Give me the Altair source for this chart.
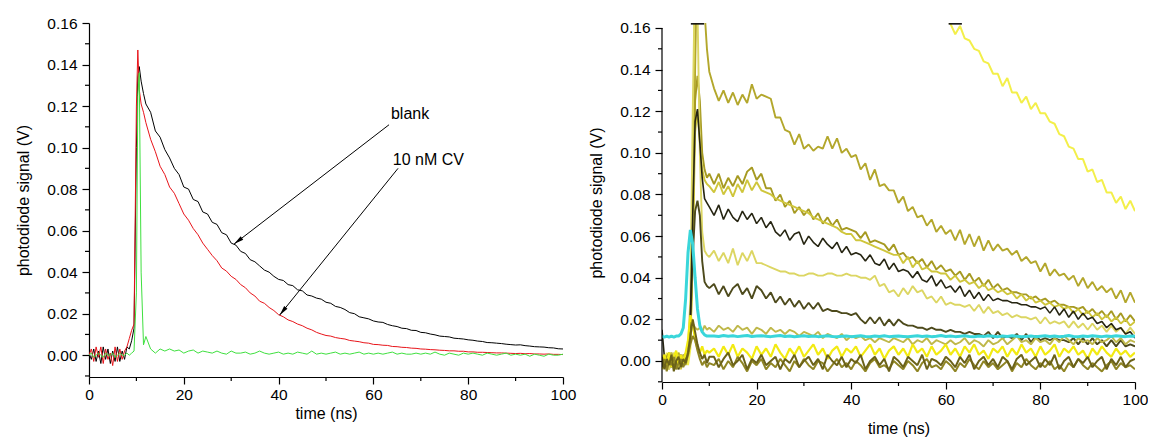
import math
import altair as alt
import pandas as pd

FONT = "Liberation Sans"

# ---------------- data: left panel ----------------
T_L = [0, 0.5, 1, 1.5, 2, 2.5, 3, 3.5, 4, 4.5,
       5, 5.5, 6, 6.5, 7, 7.5, 8, 8.5, 9, 9.5,
       10, 10.3, 10.6, 11, 11.5] + list(range(12, 101))

BLANK = [0.001, -0.002, 0.003, -0.003, 0.002, -0.004, 0.004, -0.002, 0.003, -0.004,
         0.002, -0.003, 0.004, -0.003, 0.002, -0.002, 0.004, 0.003, 0.007, 0.013,
         0.100, 0.134, 0.139, 0.132, 0.126,
         0.121, 0.117, 0.108, 0.105, 0.099, 0.095, 0.090, 0.087, 0.081, 0.080,
         0.075, 0.074, 0.069, 0.068, 0.064, 0.063, 0.059, 0.058, 0.054, 0.053,
         0.050, 0.049, 0.046, 0.045, 0.043, 0.041, 0.040, 0.038, 0.0365, 0.036,
         0.034, 0.0335, 0.0315, 0.031, 0.029, 0.0285, 0.0275, 0.027, 0.0255, 0.025,
         0.0235, 0.023, 0.022, 0.0205, 0.020, 0.0185, 0.018, 0.0175, 0.0165, 0.016,
         0.0158, 0.0148, 0.0142, 0.0138, 0.013, 0.0128, 0.012, 0.0119, 0.011, 0.0108,
         0.0102, 0.0098, 0.0092, 0.009, 0.0088, 0.0082, 0.008, 0.0078, 0.0074, 0.0072,
         0.0068, 0.0066, 0.0061, 0.006, 0.0058, 0.0056, 0.0053, 0.0051, 0.0049, 0.0050,
         0.0046, 0.0044, 0.0041, 0.0040, 0.0039, 0.0036, 0.0035, 0.0031, 0.0030]

CV_10NM = [0.000, 0.003, -0.003, 0.004, -0.001, 0.004, -0.004, 0.003, -0.002, 0.001,
           -0.005, 0.004, -0.003, 0.003, -0.002, 0.002, 0.004, 0.008, 0.012, 0.015,
           0.120, 0.147, 0.128, 0.121, 0.117,
           0.112, 0.104, 0.098, 0.091, 0.087, 0.081, 0.078, 0.073, 0.068, 0.065,
           0.061, 0.058, 0.054, 0.051, 0.048, 0.0455, 0.042, 0.0405, 0.038, 0.0365,
           0.034, 0.0325, 0.030, 0.0285, 0.026, 0.025, 0.023, 0.0215, 0.0195, 0.0185,
           0.017, 0.0162, 0.015, 0.0142, 0.013, 0.0122, 0.011, 0.0102, 0.0095, 0.0092,
           0.0085, 0.0081, 0.0078, 0.0071, 0.0068, 0.0065, 0.006, 0.0058, 0.0052, 0.0051,
           0.0048, 0.0047, 0.0042, 0.0041, 0.0038, 0.0037, 0.0034, 0.0033, 0.0030, 0.0029,
           0.0027, 0.0026, 0.0024, 0.0023, 0.0021, 0.0021, 0.0019, 0.0019, 0.0016, 0.0016,
           0.0014, 0.0014, 0.0013, 0.0012, 0.0011, 0.0011, 0.0010, 0.0009, 0.0008, 0.0009,
           0.0007, 0.0008, 0.0006, 0.0006, 0.0005, 0.0006, 0.0004, 0.0004, 0.0003]

GREEN = [0.000, 0.001, -0.001, 0.000, 0.001, 0.000, -0.001, 0.001, 0.000, 0.000,
         0.001, -0.001, 0.000, 0.001, 0.000, 0.000, 0.001, 0.000, 0.001, 0.002,
         0.030, 0.125, 0.136, 0.040, 0.005,
         0.009, 0.003, 0.001, 0.003, 0.002, 0.003, 0.002, 0.0025, 0.001, 0.002,
         0.0025, 0.001, 0.002, 0.0015, 0.001, 0.002, 0.001, 0.0005, 0.002, 0.001,
         0.001, 0.0015, 0.0005, 0.001, 0.002, 0.001, 0.0005, 0.001, 0.0015, 0.0005,
         0.001, 0.0005, 0.0015, 0.001, 0.0005, 0.002, 0.0005, 0.001, 0.0005, 0.001,
         0.0015, 0.0005, 0.001, 0.0005, 0.001, 0.0015, 0.0005, 0.001, 0.0005, 0.001,
         0.0005, 0.001, 0.0015, 0.0005, 0.001, 0.0005, 0.0005, 0.001, 0.0005, 0.001,
         0.0005, 0.0015, 0.0005, 0.0, 0.001, 0.0005, 0.0, 0.001, 0.0005, 0.001,
         0.0005, 0.0, 0.001, 0.0005, 0.0, 0.0005, 0.001, 0.0, 0.0005, 0.0,
         0.0005, -0.0005, 0.0005, 0.0, -0.0005, 0.0005, 0.0, 0.0, 0.0005]

LEFT_SERIES = [("blank", BLANK, "#000000", 1.0),
               ("10 nM CV", CV_10NM, "#e8141a", 1.0),
               ("green", GREEN, "#3fe03f", 1.0)]

ANN_TEXT = ["blank", "10 nM CV"]
ANN_T = [63.7, 64.1]
ANN_V = [0.1137, 0.0915]
ARROW_T0 = [63.3, 65.2]
ARROW_V0 = [0.1110, 0.0900]
ARROW_T1 = [30.6, 40.2]
ARROW_V1 = [0.0535, 0.0193]

# ---------------- data: right panel ----------------
T_R = [0, 0.5, 1, 1.5, 2, 2.5, 3, 3.5, 4, 4.5,
       5, 5.5, 6, 6.5, 7, 7.5, 8, 8.5, 9, 9.5, 10] + list(range(11, 101))

R_BIG_YELLOW = [0.002, -0.003, 0.004, -0.002, 0.003, -0.004, 0.002, 0.004, -0.003, 0.001,
                0.003, -0.002, 0.006, 0.060, 0.190, 0.300, 0.340, 0.360, 0.370, 0.370, 0.360,
                0.350, 0.345, 0.340, 0.335, 0.330, 0.320, 0.315, 0.310, 0.305, 0.300,
                0.295, 0.290, 0.285, 0.280, 0.275, 0.270, 0.265, 0.260, 0.255, 0.250,
                0.245, 0.240, 0.236, 0.232, 0.228, 0.224, 0.220, 0.216, 0.212, 0.208,
                0.204, 0.200, 0.197, 0.194, 0.191, 0.188, 0.185, 0.182, 0.179, 0.176,
                0.174, 0.172, 0.170, 0.169, 0.168, 0.167, 0.166, 0.1655, 0.165, 0.1645,
                0.162, 0.157, 0.161, 0.155, 0.154, 0.150, 0.149, 0.144, 0.143, 0.138,
                0.138, 0.132, 0.136, 0.129, 0.129, 0.124, 0.127, 0.121, 0.124, 0.119,
                0.119, 0.115, 0.114, 0.109, 0.108, 0.103, 0.102, 0.097, 0.097, 0.091,
                0.092, 0.086, 0.087, 0.081, 0.081, 0.076, 0.079, 0.073, 0.077, 0.072]

R_OLIVE_TOP = [-0.002, 0.003, 0.000, -0.004, 0.002, 0.001, -0.003, 0.004, -0.001, 0.002,
               0.000, 0.004, 0.010, 0.050, 0.140, 0.200, 0.220, 0.210, 0.168, 0.150, 0.139,
               0.131, 0.125, 0.130, 0.124, 0.129, 0.123, 0.128, 0.124, 0.133, 0.126,
               0.128, 0.127, 0.126, 0.117, 0.117, 0.111, 0.110, 0.104, 0.109, 0.102,
               0.104, 0.101, 0.103, 0.102, 0.108, 0.102, 0.107, 0.100, 0.102, 0.098,
               0.099, 0.092, 0.095, 0.087, 0.092, 0.084, 0.085, 0.082, 0.082, 0.076,
               0.079, 0.072, 0.074, 0.069, 0.070, 0.065, 0.068, 0.062, 0.065, 0.061,
               0.063, 0.058, 0.063, 0.056, 0.061, 0.055, 0.060, 0.053, 0.058, 0.053,
               0.056, 0.053, 0.054, 0.051, 0.053, 0.048, 0.050, 0.047, 0.048, 0.043,
               0.047, 0.041, 0.044, 0.041, 0.042, 0.039, 0.041, 0.036, 0.040, 0.035,
               0.038, 0.034, 0.036, 0.033, 0.035, 0.030, 0.034, 0.028, 0.033, 0.028]

R_OLIVE_MID = [0.001, -0.003, 0.002, 0.004, -0.002, 0.000, 0.003, -0.004, 0.002, 0.000,
               -0.002, 0.003, 0.015, 0.060, 0.125, 0.137, 0.125, 0.100, 0.092, 0.088, 0.090,
               0.085, 0.090, 0.083, 0.088, 0.084, 0.089, 0.085, 0.091, 0.093, 0.087,
               0.090, 0.083, 0.083, 0.077, 0.080, 0.074, 0.077, 0.071, 0.074, 0.070,
               0.073, 0.068, 0.071, 0.066, 0.069, 0.065, 0.068, 0.063, 0.064, 0.063,
               0.062, 0.059, 0.062, 0.057, 0.058, 0.057, 0.056, 0.053, 0.056, 0.051,
               0.052, 0.049, 0.050, 0.047, 0.049, 0.045, 0.048, 0.044, 0.046, 0.043,
               0.044, 0.041, 0.043, 0.039, 0.042, 0.038, 0.040, 0.036, 0.039, 0.035,
               0.037, 0.034, 0.035, 0.033, 0.033, 0.032, 0.032, 0.030, 0.031, 0.029,
               0.030, 0.028, 0.029, 0.027, 0.027, 0.026, 0.026, 0.025, 0.026, 0.023,
               0.025, 0.022, 0.024, 0.021, 0.024, 0.020, 0.023, 0.019, 0.022, 0.019]

R_YELLOW_OLIVE = [-0.001, 0.002, -0.003, 0.001, 0.004, -0.002, 0.001, 0.003, -0.004, 0.002,
                  0.001, 0.002, 0.010, 0.050, 0.110, 0.120, 0.105, 0.092, 0.087, 0.085, 0.084,
                  0.081, 0.086, 0.080, 0.084, 0.079, 0.085, 0.081, 0.087, 0.082, 0.086,
                  0.082, 0.081, 0.080, 0.078, 0.077, 0.076, 0.075, 0.074, 0.073, 0.072,
                  0.071, 0.069, 0.068, 0.067, 0.066, 0.065, 0.064, 0.062, 0.061, 0.061,
                  0.058, 0.058, 0.057, 0.056, 0.055, 0.054, 0.053, 0.052, 0.051, 0.051,
                  0.047, 0.050, 0.045, 0.048, 0.044, 0.045, 0.043, 0.043, 0.042, 0.042,
                  0.039, 0.041, 0.038, 0.039, 0.037, 0.038, 0.035, 0.037, 0.034, 0.035,
                  0.033, 0.034, 0.032, 0.033, 0.030, 0.032, 0.029, 0.031, 0.028, 0.029,
                  0.027, 0.028, 0.026, 0.027, 0.025, 0.026, 0.023, 0.025, 0.022, 0.024,
                  0.021, 0.023, 0.020, 0.022, 0.019, 0.021, 0.018, 0.020, 0.017, 0.019]

R_BLACK = [0.015, 0.002, -0.002, 0.001, -0.003, 0.002, 0.000, -0.002, 0.003, -0.001,
           0.001, 0.004, 0.020, 0.070, 0.115, 0.121, 0.105, 0.088, 0.078, 0.076, 0.074,
           0.070, 0.075, 0.068, 0.073, 0.069, 0.067, 0.072, 0.068, 0.071, 0.066,
           0.069, 0.064, 0.067, 0.062, 0.060, 0.063, 0.058, 0.061, 0.062, 0.056,
           0.060, 0.057, 0.055, 0.059, 0.056, 0.054, 0.057, 0.052, 0.055, 0.051,
           0.052, 0.051, 0.048, 0.051, 0.047, 0.046, 0.049, 0.044, 0.047, 0.043,
           0.044, 0.043, 0.040, 0.043, 0.039, 0.038, 0.041, 0.036, 0.039, 0.035,
           0.036, 0.033, 0.036, 0.031, 0.034, 0.030, 0.033, 0.029, 0.032, 0.029,
           0.030, 0.029, 0.029, 0.028, 0.028, 0.027, 0.027, 0.026, 0.026, 0.025,
           0.026, 0.023, 0.026, 0.022, 0.025, 0.021, 0.024, 0.020, 0.023, 0.020,
           0.021, 0.018, 0.019, 0.016, 0.018, 0.015, 0.016, 0.013, 0.014, 0.011]

R_LIGHT_YELLOW = [0.003, -0.002, 0.001, -0.004, 0.002, 0.004, -0.001, 0.001, -0.003, 0.002,
                  0.004, 0.006, 0.030, 0.120, 0.190, 0.170, 0.100, 0.062, 0.053, 0.051, 0.050,
                  0.053, 0.048, 0.052, 0.047, 0.054, 0.046, 0.052, 0.048, 0.053, 0.047,
                  0.047, 0.046, 0.045, 0.044, 0.043, 0.043, 0.042, 0.042, 0.041, 0.041,
                  0.042, 0.042, 0.041, 0.041, 0.042, 0.042, 0.041, 0.041, 0.042, 0.041,
                  0.041, 0.040, 0.040, 0.039, 0.041, 0.036, 0.037, 0.033, 0.034, 0.031,
                  0.035, 0.032, 0.036, 0.033, 0.034, 0.030, 0.031, 0.028, 0.031, 0.027,
                  0.028, 0.027, 0.027, 0.026, 0.027, 0.024, 0.027, 0.023, 0.026, 0.023,
                  0.024, 0.022, 0.023, 0.021, 0.022, 0.021, 0.021, 0.020, 0.021, 0.018,
                  0.021, 0.018, 0.019, 0.018, 0.019, 0.016, 0.019, 0.016, 0.018, 0.015,
                  0.018, 0.015, 0.017, 0.014, 0.017, 0.014, 0.016, 0.013, 0.016, 0.013]

R_DARK_OLIVE = [-0.001, 0.002, -0.003, 0.000, 0.003, -0.002, 0.001, -0.004, 0.002, 0.000,
                0.002, 0.004, 0.020, 0.050, 0.072, 0.077, 0.070, 0.048, 0.038, 0.036, 0.035,
                0.037, 0.032, 0.036, 0.031, 0.035, 0.037, 0.032, 0.035, 0.030, 0.036,
                0.034, 0.030, 0.033, 0.028, 0.031, 0.027, 0.030, 0.026, 0.029, 0.025,
                0.028, 0.025, 0.028, 0.024, 0.025, 0.024, 0.024, 0.023, 0.023, 0.022,
                0.023, 0.020, 0.018, 0.021, 0.018, 0.021, 0.017, 0.020, 0.017, 0.020,
                0.018, 0.017, 0.017, 0.016, 0.016, 0.015, 0.016, 0.015, 0.015, 0.014,
                0.015, 0.014, 0.014, 0.013, 0.014, 0.013, 0.013, 0.012, 0.014, 0.011,
                0.014, 0.011, 0.012, 0.011, 0.013, 0.010, 0.013, 0.009, 0.012, 0.010,
                0.011, 0.010, 0.011, 0.010, 0.010, 0.009, 0.011, 0.008, 0.011, 0.008,
                0.011, 0.008, 0.010, 0.007, 0.010, 0.007, 0.010, 0.007, 0.008, 0.007]

R_CYAN = [0.012, 0.0115, 0.012, 0.0115, 0.012, 0.0115, 0.012, 0.012, 0.013, 0.016,
          0.030, 0.052, 0.063, 0.056, 0.040, 0.025, 0.017, 0.014, 0.0125, 0.012, 0.012,
          0.012, 0.0118, 0.0122, 0.0119, 0.0121, 0.0117, 0.012, 0.0122, 0.0118, 0.012,
          0.0121, 0.0119, 0.0117, 0.012, 0.0122, 0.0118, 0.012, 0.0116, 0.0119, 0.0121,
          0.0118, 0.012, 0.0117, 0.0119, 0.0121, 0.0118, 0.0116, 0.0119, 0.012, 0.0117,
          0.0119, 0.0121, 0.0118, 0.0116, 0.012, 0.0118, 0.0121, 0.0117, 0.0119, 0.012,
          0.0118, 0.0116, 0.0119, 0.0121, 0.0118, 0.012, 0.0117, 0.0119, 0.0122, 0.0118,
          0.012, 0.0117, 0.0119, 0.0121, 0.0118, 0.0116, 0.012, 0.0118, 0.0121, 0.0119,
          0.0117, 0.012, 0.0118, 0.0121, 0.0119, 0.0116, 0.0118, 0.012, 0.0117, 0.0119,
          0.0121, 0.0118, 0.012, 0.0117, 0.0119, 0.0122, 0.0118, 0.0116, 0.012, 0.0118,
          0.0121, 0.0119, 0.0117, 0.012, 0.0118, 0.0121, 0.0119, 0.0117, 0.012, 0.0119]

R_LIGHT_OLIVE_BASE = [0.000, 0.003, -0.002, 0.001, 0.004, -0.001, 0.002, -0.003, 0.001, 0.003,
                      0.002, 0.006, 0.012, 0.018, 0.016, 0.015, 0.016, 0.014, 0.017, 0.015, 0.016,
                      0.014, 0.017, 0.015, 0.016, 0.014, 0.017, 0.015, 0.016, 0.013, 0.016,
                      0.015, 0.013, 0.016, 0.014, 0.015, 0.013, 0.015, 0.014, 0.012, 0.014,
                      0.013, 0.012, 0.014, 0.011, 0.013, 0.012, 0.011, 0.013, 0.010, 0.012,
                      0.011, 0.012, 0.010, 0.011, 0.009, 0.011, 0.010, 0.009, 0.011, 0.010,
                      0.009, 0.011, 0.008, 0.010, 0.009, 0.011, 0.008, 0.010, 0.009, 0.008,
                      0.010, 0.008, 0.009, 0.011, 0.008, 0.010, 0.009, 0.007, 0.010, 0.008,
                      0.009, 0.011, 0.008, 0.010, 0.012, 0.009, 0.010, 0.008, 0.011, 0.009,
                      0.010, 0.008, 0.011, 0.009, 0.012, 0.010, 0.008, 0.011, 0.009, 0.010,
                      0.008, 0.011, 0.009, 0.010, 0.012, 0.009, 0.011, 0.008, 0.010, 0.009]

R_YELLOW_BASE = [-0.004, 0.003, -0.002, 0.004, -0.003, 0.002, 0.005, -0.002, 0.003, -0.001,
                 0.004, 0.010, 0.022, 0.018, 0.010, 0.006, 0.004, 0.007, 0.003, 0.005, 0.004,
                 0.006, 0.002, 0.007, 0.003, 0.008, 0.002, 0.006, 0.004, 0.001, 0.007,
                 0.003, 0.006, 0.002, 0.008, 0.004, 0.001, 0.006, 0.003, 0.007, 0.002,
                 0.005, 0.008, 0.003, 0.006, 0.001, 0.005, 0.007, 0.002, 0.006, 0.004,
                 0.007, 0.002, 0.005, 0.008, 0.003, 0.006, 0.001, 0.005, 0.007, 0.003,
                 0.006, 0.002, 0.008, 0.004, 0.006, 0.002, 0.007, 0.003, 0.005, 0.008,
                 0.003, 0.006, 0.002, 0.007, 0.004, 0.008, 0.003, 0.005, 0.001, 0.006,
                 0.004, 0.007, 0.002, 0.006, 0.003, 0.008, 0.004, 0.006, 0.002, 0.007,
                 0.003, 0.005, 0.008, 0.002, 0.006, 0.004, 0.007, 0.003, 0.005, 0.001,
                 0.006, 0.003, 0.007, 0.004, 0.002, 0.006, 0.003, 0.005, 0.002, 0.004]

R_DARK_BASE = [0.002, -0.004, 0.001, -0.002, 0.003, -0.005, 0.000, 0.002, -0.003, 0.001,
               -0.001, 0.004, 0.012, 0.020, 0.014, 0.008, 0.004, 0.001, 0.003, -0.001, 0.002,
               0.002, -0.003, 0.001, 0.004, -0.002, 0.000, 0.003, -0.004, 0.001, -0.001,
               0.003, -0.002, 0.000, 0.002, -0.004, 0.001, -0.001, 0.003, -0.003, 0.000,
               0.002, -0.002, 0.001, -0.004, 0.003, 0.000, -0.002, 0.002, -0.003, 0.001,
               -0.001, 0.003, -0.004, 0.000, 0.002, -0.002, 0.001, -0.005, 0.002, 0.000,
               -0.003, 0.002, 0.000, -0.002, 0.003, -0.004, 0.001, 0.000, -0.002, 0.002,
               0.000, -0.003, 0.002, -0.001, 0.003, -0.004, 0.000, 0.002, -0.002, 0.001,
               -0.003, 0.002, 0.000, -0.004, 0.001, 0.003, -0.002, 0.000, 0.002, -0.003,
               0.001, -0.002, 0.003, -0.004, 0.000, 0.002, -0.003, 0.001, -0.001, 0.002,
               -0.003, 0.000, 0.002, -0.004, 0.001, -0.002, 0.002, -0.003, 0.000, 0.001]

R_OLIVE_BASE = [-0.003, 0.001, -0.005, 0.000, -0.002, 0.002, -0.004, -0.001, 0.001, -0.003,
                0.000, 0.003, 0.008, 0.012, 0.010, 0.005, 0.001, -0.002, 0.000, -0.003, -0.001,
                -0.002, 0.001, -0.004, 0.000, -0.003, 0.002, -0.001, -0.005, 0.000, -0.002,
                0.001, -0.004, -0.001, -0.003, 0.001, -0.002, -0.005, 0.000, -0.003, 0.001,
                -0.002, -0.004, 0.000, -0.001, -0.005, -0.002, 0.001, -0.003, -0.001, -0.004,
                0.000, -0.002, -0.005, -0.001, 0.001, -0.003, -0.002, -0.004, 0.000, -0.002,
                -0.004, 0.000, -0.002, -0.005, -0.001, 0.001, -0.003, -0.002, -0.004, 0.000,
                -0.002, -0.005, -0.001, -0.003, 0.001, -0.002, -0.004, 0.000, -0.003, -0.001,
                -0.004, -0.002, 0.000, -0.005, -0.001, -0.003, 0.001, -0.002, -0.004, -0.001,
                -0.003, 0.000, -0.004, -0.002, -0.005, -0.001, -0.003, 0.001, -0.002, -0.004,
                -0.001, -0.003, -0.005, -0.002, 0.000, -0.004, -0.001, -0.003, -0.002, -0.004]

RIGHT_SERIES = [("big yellow", R_BIG_YELLOW, "#f3ef4a", 2.0),
                ("olive top", R_OLIVE_TOP, "#b3a72c", 1.9),
                ("olive mid", R_OLIVE_MID, "#a69a22", 1.9),
                ("yellow olive", R_YELLOW_OLIVE, "#cfc63c", 1.9),
                ("light yellow", R_LIGHT_YELLOW, "#dcd663", 1.9),
                ("dark olive", R_DARK_OLIVE, "#4d4a1c", 1.9),
                ("black", R_BLACK, "#262512", 1.6),
                ("light olive base", R_LIGHT_OLIVE_BASE, "#bfb84a", 1.9),
                ("cyan", R_CYAN, "#3ad6da", 3.0),
                ("yellow base", R_YELLOW_BASE, "#f2ea12", 2.2),
                ("olive base", R_OLIVE_BASE, "#8f8524", 2.0),
                ("dark base", R_DARK_BASE, "#6b6219", 2.0)]

OFF_T0 = [6.1, 60.6]
OFF_T1 = [8.9, 63.4]
OFF_V = [0.1620, 0.1620]

X_MAJOR = [0, 20, 40, 60, 80, 100]
X_MINOR = [10, 30, 50, 70, 90]
Y_MAJOR = [0.0, 0.02, 0.04, 0.06, 0.08, 0.10, 0.12, 0.14, 0.16]
Y_MINOR = [-0.01, 0.01, 0.03, 0.05, 0.07, 0.09, 0.11, 0.13, 0.15]

# ---------------- layout / style ----------------
W_L, H_L = 474, 354
W_R, H_R = 473, 359
SPACING = 99
YL = [-0.0105, 0.16]
YR = [-0.0101, 0.1624]
XD = [0, 100]
MAJOR_LEN = 7
MINOR_LEN = 4


def x_axis(title_pad):
    return alt.Axis(values=X_MAJOR, title="time (ns)", format="d",
                    tickSize=MAJOR_LEN, labelFlush=False, labelOverlap=False,
                    labelPadding=3, titlePadding=title_pad, grid=False)


def y_axis(domain=True):
    return alt.Axis(values=Y_MAJOR, title="photodiode signal (V)", format=".2f",
                    tickSize=MAJOR_LEN, labelFlush=False, labelOverlap=False,
                    labelPadding=5, titlePadding=15, grid=False, domain=domain)


def build_panel(series, t_grid, ydom, w, h, xa, ya, extra=None):
    xs = alt.Scale(domain=XD, nice=False, zero=False)
    ys = alt.Scale(domain=ydom, nice=False, zero=False)
    X = lambda f: alt.X(f, scale=xs, axis=xa)
    Y = lambda f: alt.Y(f, scale=ys, axis=ya)
    layers = []
    for name, vals, col, sw in series:
        df = pd.DataFrame({"t": t_grid, "v": vals})
        layers.append(alt.Chart(df).mark_line(color=col, strokeWidth=sw, clip=True,
                                              strokeJoin="bevel").encode(
            x=X("t:Q"), y=Y("v:Q")))
    if extra:
        layers += extra(X, Y)
    layers.append(alt.Chart(pd.DataFrame({"t": X_MINOR})).mark_rule(
        color="black", strokeWidth=1.2, clip=False).encode(
        x=X("t:Q"), y=alt.value(h), y2=alt.value(h + MINOR_LEN)))
    layers.append(alt.Chart(pd.DataFrame({"v": Y_MINOR})).mark_rule(
        color="black", strokeWidth=1.2, clip=False).encode(
        y=Y("v:Q"), x=alt.value(-MINOR_LEN), x2=alt.value(0)))
    return alt.layer(*layers).properties(width=w, height=h)


def left_extra(X, Y):
    out = []
    ann_df = pd.DataFrame({"t": ANN_T, "v": ANN_V, "txt": ANN_TEXT})
    out.append(alt.Chart(ann_df).mark_text(
        align="left", baseline="alphabetic", font=FONT, fontSize=16, color="black").encode(
        x=X("t:Q"), y=Y("v:Q"), text="txt:N"))
    arr_df = pd.DataFrame({"t0": ARROW_T0, "v0": ARROW_V0, "t1": ARROW_T1, "v1": ARROW_V1})
    out.append(alt.Chart(arr_df).mark_rule(color="black", strokeWidth=1).encode(
        x=X("t0:Q"), y=Y("v0:Q"), x2="t1:Q", y2="v1:Q"))
    sx = W_L / (XD[1] - XD[0])
    sy = H_L / (YL[1] - YL[0])
    head = 10.0
    ht, hv, ha = [], [], []
    for t0, v0, t1, v1 in zip(ARROW_T0, ARROW_V0, ARROW_T1, ARROW_V1):
        dx = (t1 - t0) * sx
        dy = -(v1 - v0) * sy
        L = math.hypot(dx, dy)
        ux, uy = dx / L, dy / L
        ha.append(math.degrees(math.atan2(ux, -uy)) % 360)
        ht.append(t1 - ux * (head / 2) / sx)
        hv.append(v1 + uy * (head / 2) / sy)
    head_df = pd.DataFrame({"t": ht, "v": hv, "a": ha})
    out.append(alt.Chart(head_df).mark_point(
        shape="M0,-1L0.42,1L-0.42,1Z", filled=True, color="black", opacity=1,
        size=head * head).encode(
        x=X("t:Q"), y=Y("v:Q"), angle=alt.Angle("a:Q", scale=None)))
    return out


def right_extra(X, Y):
    out = []
    off_df = pd.DataFrame({"t0": OFF_T0, "t1": OFF_T1, "v": OFF_V})
    out.append(alt.Chart(off_df).mark_rule(color="#111111", strokeWidth=1.6).encode(
        x=X("t0:Q"), x2="t1:Q", y=Y("v:Q")))
    yline_df = pd.DataFrame({"t": [XD[0]], "v0": [YR[0]], "v1": [Y_MAJOR[-1]]})
    out.append(alt.Chart(yline_df).mark_rule(color="black", strokeWidth=1.2, clip=False).encode(
        x=X("t:Q"), y=Y("v0:Q"), y2="v1:Q"))
    return out


left = build_panel(LEFT_SERIES, T_L, YL, W_L, H_L, x_axis(3), y_axis(True), left_extra)
right = build_panel(RIGHT_SERIES, T_R, YR, W_R, H_R, x_axis(13), y_axis(False), right_extra)

chart = alt.hconcat(left, right, spacing=SPACING, bounds="flush").properties(
    padding={"left": 7, "top": 8, "right": 0, "bottom": 0},
    background="white"
).configure_view(stroke=None).configure_axis(
    domainColor="black", domainWidth=1.2, tickColor="black", tickWidth=1.2,
    labelColor="black", titleColor="black", labelFont=FONT, labelFontSize=15.5,
    titleFont=FONT, titleFontSize=16, titleFontWeight="normal"
)

chart.save("out.html", embed_options={"renderer": "svg", "actions": False})
